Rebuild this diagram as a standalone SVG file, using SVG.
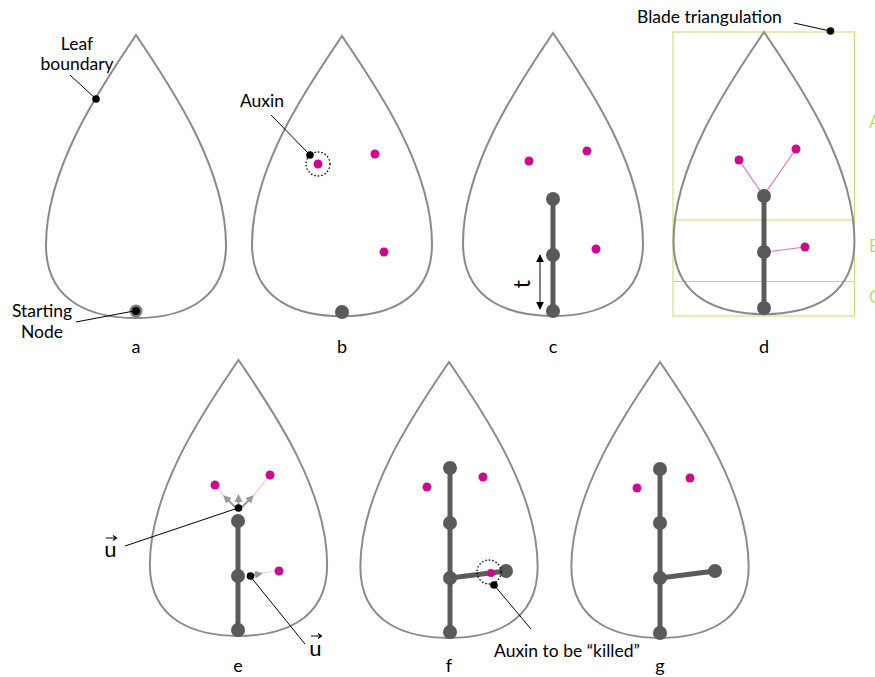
<svg xmlns="http://www.w3.org/2000/svg" width="875" height="677" viewBox="0 0 875 677">
<style>
.leaf{fill:none;stroke:#8a8a8a;stroke-width:2}
.node{fill:#5a5a5a}
.vein{stroke:#5a5a5a;stroke-width:5;stroke-linecap:round;fill:none}
.aux{fill:#cc0a8f}
.dot{fill:#000}
.lead{stroke:#000;stroke-width:1;fill:none}
.lbl{font-family:Lato,"Open Sans","Liberation Sans",sans-serif;font-size:17.5px;fill:#000}
.plbl{font-family:Lato,"Open Sans","Liberation Sans",sans-serif;font-size:18px;fill:#000;text-anchor:middle}
.dotted{fill:none;stroke:#000;stroke-width:1.3;stroke-dasharray:1.5 2}
.yg{fill:none;stroke:#c9d76a;stroke-width:1}
.ygt{font-family:Lato,"Open Sans","Liberation Sans",sans-serif;font-size:17px;fill:#c9d76a}
.pink{stroke:#e070b8;stroke-width:1.2;fill:none}
.faint{stroke:#f5c8e0;stroke-width:1.2;fill:none}
.garr{stroke:#999;stroke-width:2;fill:none;marker-end:url(#gh)}
</style>
<defs>
<path id="leafShape" d="M0 0 C-30 45 -90 130 -90 210 C-90 270 -40 283 0 283 C40 283 90 270 90 210 C90 130 30 45 0 0 Z"/>
<marker id="gh" viewBox="0 0 10 10" refX="5" refY="5" markerWidth="4" markerHeight="4" orient="auto" markerUnits="strokeWidth">
<path d="M0 0 L10 5 L0 10 Z" fill="#999"/>
</marker>
<marker id="bh" viewBox="0 0 10 10" refX="9" refY="5" markerWidth="8" markerHeight="8" orient="auto-start-reverse" markerUnits="userSpaceOnUse">
<path d="M0 0 L10 5 L0 10 Z" fill="#000"/>
</marker>
<filter id="blur" x="-50%" y="-50%" width="200%" height="200%"><feGaussianBlur stdDeviation="0.7"/></filter>
</defs>

<!-- Panel a -->
<g id="panel-a">
<use href="#leafShape" class="leaf" transform="translate(136 35)"/>
<text class="lbl" x="77" y="50" text-anchor="middle">Leaf</text>
<text class="lbl" x="77" y="70" text-anchor="middle">boundary</text>
<text class="lbl" x="42" y="317" text-anchor="middle">Starting</text>
<text class="lbl" x="42" y="338" text-anchor="middle">Node</text>
<circle cx="136" cy="311" r="6.5" fill="#7a7a7a" filter="url(#blur)"/>
<circle cx="136" cy="311" r="4" class="dot"/>
<circle cx="96" cy="99" r="3.8" class="dot"/>
<text class="plbl" x="136" y="353">a</text>
</g>

<!-- Panel b -->
<g id="panel-b">
<use href="#leafShape" class="leaf" transform="translate(342 36) scale(1 0.99)"/>
<text class="lbl" x="262" y="107" text-anchor="middle">Auxin</text>
<circle cx="318" cy="164" r="12" class="dotted"/>
<circle cx="318" cy="164" r="4.5" class="aux"/>
<circle cx="310" cy="155" r="3.8" class="dot"/>
<circle cx="375" cy="154" r="4.5" class="aux"/>
<circle cx="384" cy="252" r="4.5" class="aux"/>
<circle cx="342" cy="312" r="7" class="node"/>
<text class="plbl" x="342" y="353">b</text>
</g>

<!-- Panel c -->
<g id="panel-c">
<use href="#leafShape" class="leaf" transform="translate(553 33)"/>
<circle cx="529" cy="161" r="4.5" class="aux"/>
<circle cx="587" cy="151" r="4.5" class="aux"/>
<circle cx="596" cy="249" r="4.5" class="aux"/>
<line x1="553" y1="199" x2="553" y2="311" class="vein"/>
<circle cx="553" cy="199" r="7" class="node"/>
<circle cx="553" cy="255" r="7" class="node"/>
<circle cx="553" cy="311" r="7" class="node"/>
<line x1="540" y1="255" x2="540" y2="309" stroke="#000" stroke-width="1" marker-start="url(#bh)" marker-end="url(#bh)"/>
<text x="0" y="0" font-family="Lato,'Open Sans','Liberation Sans',sans-serif" font-size="23" text-anchor="middle" transform="translate(530 284) rotate(-90)">t</text>
<text class="plbl" x="553" y="353">c</text>
</g>

<!-- Panel d -->
<g id="panel-d">
<rect x="673" y="32" width="181.5" height="284" class="yg"/>
<line x1="673" y1="220" x2="854.5" y2="220" class="yg"/>
<line x1="673" y1="281.5" x2="854.5" y2="281.5" class="yg"/>
<text class="ygt" x="869" y="128">A</text>
<text class="ygt" x="869" y="252">B</text>
<text class="ygt" x="869" y="303">C</text>
<use href="#leafShape" class="leaf" transform="translate(764 32) scale(1.005 0.997)"/>
<line x1="739" y1="160" x2="761" y2="192" class="pink"/>
<line x1="796" y1="149" x2="766" y2="192" class="pink"/>
<line x1="805" y1="247" x2="766" y2="252" class="pink"/>
<circle cx="739" cy="160" r="4.5" class="aux"/>
<circle cx="796" cy="149" r="4.5" class="aux"/>
<circle cx="805" cy="247" r="4.5" class="aux"/>
<line x1="764" y1="196" x2="764" y2="308" class="vein"/>
<circle cx="764" cy="196" r="7" class="node"/>
<circle cx="764" cy="252" r="7" class="node"/>
<circle cx="764" cy="308" r="7" class="node"/>
<text class="lbl" x="637" y="23">Blade triangulation</text>
<circle cx="830.5" cy="31" r="3.8" class="dot"/>
<text class="plbl" x="764" y="353">d</text>
</g>

<!-- Panel e -->
<g id="panel-e">
<use href="#leafShape" class="leaf" transform="translate(238.5 360) scale(0.985 0.975)"/>
<line x1="224" y1="496" x2="215" y2="485" class="faint"/>
<line x1="253" y1="496" x2="270" y2="475" class="faint"/>
<line x1="260" y1="573" x2="279" y2="571" class="faint"/>
<circle cx="215" cy="485" r="4.5" class="aux"/>
<circle cx="270" cy="475" r="4.5" class="aux"/>
<circle cx="279" cy="571" r="4.5" class="aux"/>
<line x1="238" y1="521" x2="238" y2="630" class="vein"/>
<circle cx="238" cy="521" r="7" class="node"/>
<circle cx="238" cy="576" r="7" class="node"/>
<circle cx="238" cy="630" r="7" class="node"/>
<line x1="235" y1="507" x2="226" y2="498" class="garr"/>
<line x1="238.5" y1="506" x2="238.5" y2="498" class="garr"/>
<line x1="242" y1="507" x2="251" y2="498" class="garr"/>
<line x1="252" y1="575" x2="259" y2="574" class="garr"/>
<circle cx="238.5" cy="508" r="3.8" class="dot"/>
<circle cx="250.5" cy="576" r="3.8" class="dot"/>
<text class="plbl" x="238" y="672">e</text>
</g>

<!-- Panel f -->
<g id="panel-f">
<use href="#leafShape" class="leaf" transform="translate(449 362) scale(0.985 0.975)"/>
<circle cx="427" cy="487" r="4.5" class="aux"/>
<circle cx="483" cy="477" r="4.5" class="aux"/>
<line x1="450" y1="468" x2="450" y2="632" class="vein"/>
<line x1="450" y1="578" x2="506" y2="571" class="vein"/>
<circle cx="491" cy="573" r="4" class="aux"/>
<circle cx="450" cy="468" r="7" class="node"/>
<circle cx="450" cy="523" r="7" class="node"/>
<circle cx="450" cy="578" r="7" class="node"/>
<circle cx="450" cy="632" r="7" class="node"/>
<circle cx="506" cy="571" r="7" class="node"/>
<circle cx="489" cy="572" r="12" class="dotted"/>
<circle cx="494" cy="585" r="3.8" class="dot"/>
<text class="lbl" x="494" y="657">Auxin to be “killed”</text>
<text class="plbl" x="449" y="672">f</text>
</g>

<!-- Panel g -->
<g id="panel-g">
<use href="#leafShape" class="leaf" transform="translate(660 362) scale(0.985 0.975)"/>
<circle cx="637" cy="488" r="4.5" class="aux"/>
<circle cx="690" cy="478" r="4.5" class="aux"/>
<line x1="660" y1="469" x2="660" y2="633" class="vein"/>
<line x1="660" y1="578" x2="715" y2="571" class="vein"/>
<circle cx="660" cy="469" r="7" class="node"/>
<circle cx="660" cy="523" r="7" class="node"/>
<circle cx="660" cy="578" r="7" class="node"/>
<circle cx="660" cy="633" r="7" class="node"/>
<circle cx="715" cy="571" r="7" class="node"/>
<text class="plbl" x="660" y="672">g</text>
</g>

<!-- u vector labels -->
<g id="u-labels">
<text x="110.5" y="557" font-family="Lato,'Open Sans','Liberation Sans',sans-serif" font-size="22" text-anchor="middle">u</text>
<path d="M106 538 H116 M113 535.5 L116.5 538 L113 540.5" stroke="#000" stroke-width="1.1" fill="none"/>
<text x="315.5" y="656" font-family="Lato,'Open Sans','Liberation Sans',sans-serif" font-size="22" text-anchor="middle">u</text>
<path d="M311 636 H321 M318 633.5 L321.5 636 L318 638.5" stroke="#000" stroke-width="1.1" fill="none"/>
</g>

<!-- leader connectors -->
<g id="connectors">
<line x1="70" y1="75" x2="96" y2="99" class="lead"/>
<line x1="76" y1="322" x2="134" y2="311" class="lead"/>
<line x1="271" y1="115" x2="310" y2="155" class="lead"/>
<line x1="794" y1="23" x2="830" y2="31" class="lead"/>
<line x1="125" y1="546" x2="238" y2="508" class="lead"/>
<line x1="305" y1="644" x2="250" y2="576" class="lead"/>
<line x1="531" y1="629" x2="494" y2="585" class="lead"/>
</g>
</svg>
